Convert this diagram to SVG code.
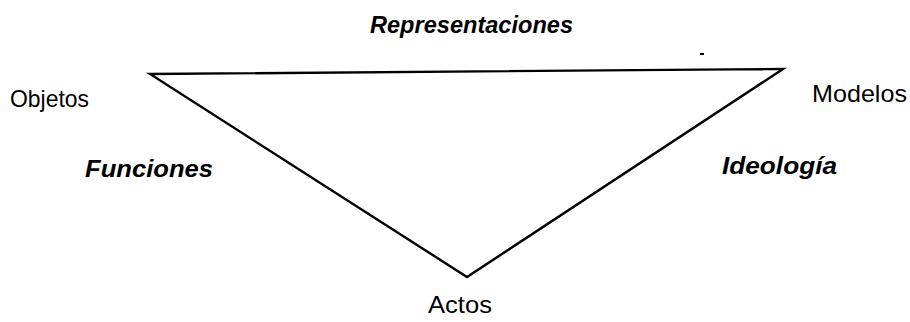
<svg xmlns="http://www.w3.org/2000/svg" width="910" height="322" viewBox="0 0 910 322">
<style>
.lbl{font-family:"Liberation Sans",Arial,sans-serif;fill:#000;font-size:24.5px}
.em{font-weight:bold;font-style:italic}
.edge{stroke:#000;stroke-width:2.4;fill:none;stroke-linejoin:miter}
</style>
<rect width="910" height="322" fill="#fff"/>
<g id="connectors">
<polygon class="edge" points="150,74 783,69 467,277"/>
<rect x="700" y="53" width="4" height="2" fill="#000"/>
</g>
<g id="representaciones"><text class="lbl em" x="370" y="33" textLength="203" lengthAdjust="spacingAndGlyphs">Representaciones</text></g>
<g id="objetos"><text class="lbl" x="10" y="107" textLength="79" lengthAdjust="spacingAndGlyphs">Objetos</text></g>
<g id="modelos"><text class="lbl" x="812" y="102" textLength="95" lengthAdjust="spacingAndGlyphs">Modelos</text></g>
<g id="funciones"><text class="lbl em" x="85" y="177" textLength="128" lengthAdjust="spacingAndGlyphs">Funciones</text></g>
<g id="ideologia"><text class="lbl em" x="722" y="174" textLength="115" lengthAdjust="spacingAndGlyphs">Ideología</text></g>
<g id="actos"><text class="lbl" x="428" y="313" textLength="64" lengthAdjust="spacingAndGlyphs">Actos</text></g>
</svg>
